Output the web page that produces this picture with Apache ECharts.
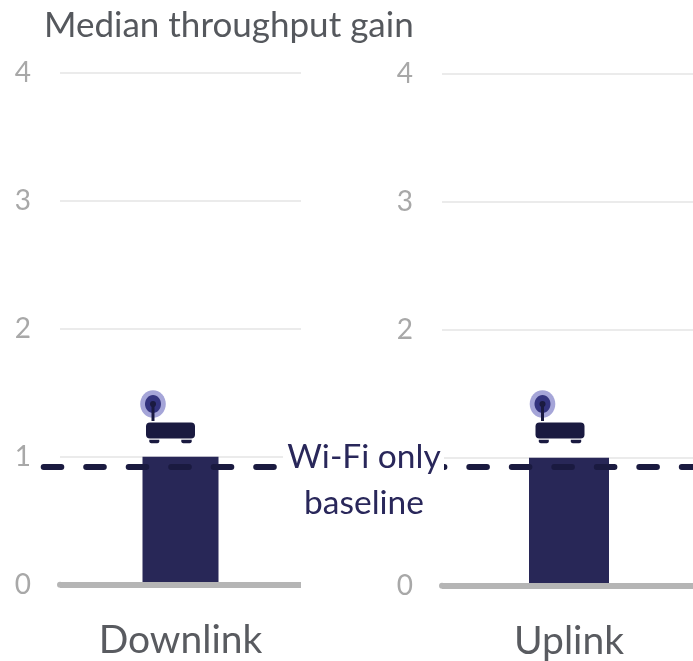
<!DOCTYPE html>
<html>
<head>
<meta charset="utf-8">
<style>html,body{margin:0;padding:0;background:#fff}#chart{width:693px;height:661px}</style>
<script src="https://cdn.jsdelivr.net/npm/echarts@6/dist/echarts.min.js"></script>
</head>
<body>
<div id="chart"></div>
<script>
// Median throughput gain relative to the Wi-Fi only baseline
const downlinkCategories = ['Downlink'];
const uplinkCategories = ['Uplink'];
const downlinkValues = [1];
const uplinkValues = [1];
const baselineGain = 0.92;
const baselineEnds = ['start', 'end'];
const axisMin = 0;
const axisMax = 4;
const axisStep = 1;
const titleText = 'Median throughput gain';
const baselineLabel = 'Wi-Fi only\nbaseline';

const FONT = 'Lato, Carlito, sans-serif';
const NAVY = '#282757';
const DARK = '#1a1a40';

function yAxis(gridIndex) {
  return {
    type: 'value', gridIndex, min: axisMin, max: axisMax, interval: axisStep,
    axisLine: {show: false}, axisTick: {show: false},
    axisLabel: {color: '#a8a8a8', fontFamily: FONT, fontSize: 28, margin: 29},
    splitLine: {lineStyle: {color: '#ebebeb', width: 2}}
  };
}
function xAxis(gridIndex, data) {
  return {
    type: 'category', gridIndex, data, z: 6,
    axisTick: {show: false},
    axisLine: {lineStyle: {color: '#b5b5b5', width: 6, cap: 'butt'}},
    axisLabel: {color: '#595b60', fontFamily: FONT, fontSize: 39, margin: 36}
  };
}
function hiddenY(gridIndex) {
  return {type: 'value', gridIndex, min: axisMin, max: axisMax, show: false};
}
function hiddenX(gridIndex) {
  return {type: 'category', gridIndex, data: baselineEnds, boundaryGap: false, show: false};
}
function barSeries(index, data, width) {
  return {type: 'bar', xAxisIndex: index, yAxisIndex: index, data, barWidth: width,
    silent: true, itemStyle: {color: NAVY}};
}
function baselineSeries(index) {
  return {type: 'line', xAxisIndex: index, yAxisIndex: index, z: 4, silent: true,
    showSymbol: false, clip: false,
    data: baselineEnds.map(() => baselineGain),
    lineStyle: {color: DARK, width: 6, type: [17.6, 24.9], cap: 'round'}};
}

// Router glyph sitting above each bar, anchored at the antenna centre
function router(cx) {
  const part = (type, shape, fill) => ({type, z: 20, silent: true, shape, style: {fill}});
  const left = cx - 7;
  return [
    part('ellipse', {cx, cy: 404, rx: 12.8, ry: 13.8}, '#a5a5d8'),
    part('ellipse', {cx, cy: 404, rx: 8, ry: 9}, '#33337e'),
    part('rect', {x: cx - 1.5, y: 404, width: 3, height: 17}, DARK),
    part('circle', {cx, cy: 404, r: 3}, DARK),
    part('rect', {x: left, y: 422.5, width: 49, height: 16, r: 4}, DARK),
    part('rect', {x: left + 3.3, y: 439.7, width: 10, height: 3.6, r: [0, 0, 2, 2]}, DARK),
    part('rect', {x: left + 35.3, y: 439.7, width: 10.4, height: 3.6, r: [0, 0, 2, 2]}, DARK)
  ];
}

const chart = echarts.init(document.getElementById('chart'), null, {renderer: 'canvas'});
chart.setOption({
  animation: false,
  backgroundColor: '#fff',
  grid: [
    {left: 60, top: 73, width: 241, height: 511.7, outerBoundsMode: 'none'},
    {left: 442, top: 74, width: 254, height: 511.7, outerBoundsMode: 'none'},
    {left: 43.7, top: 73, width: 230.6, height: 511.7, outerBoundsMode: 'none'},
    {left: 426.8, top: 73, width: 269.2, height: 511.7, outerBoundsMode: 'none'}
  ],
  xAxis: [xAxis(0, downlinkCategories), xAxis(1, uplinkCategories), hiddenX(2), hiddenX(3)],
  yAxis: [yAxis(0), yAxis(1), hiddenY(2), hiddenY(3)],
  series: [
    barSeries(0, downlinkValues, 76),
    barSeries(1, uplinkValues, 80),
    baselineSeries(2),
    baselineSeries(3)
  ],
  graphic: {elements: [
    {type: 'text', z: 30, left: 44, top: 8, silent: true,
      style: {text: titleText, fill: '#55585d', font: '35px ' + FONT}},
    {type: 'rect', z: 25, silent: true, shape: {x: 283, y: 435, width: 161, height: 90}, style: {fill: '#fff'}},
    {type: 'text', z: 30, silent: true, x: 364, y: 480,
      style: {text: baselineLabel, fill: '#29275a', font: '33.5px ' + FONT, align: 'center',
        verticalAlign: 'middle', lineHeight: 46}},
    {type: 'circle', z: 7, silent: true, shape: {cx: 60, cy: 584.7, r: 3}, style: {fill: '#b5b5b5'}},
    {type: 'circle', z: 7, silent: true, shape: {cx: 442, cy: 585.7, r: 3}, style: {fill: '#b5b5b5'}},
    ...router(153),
    ...router(542.5)
  ]}
});
</script>
</body>
</html>
